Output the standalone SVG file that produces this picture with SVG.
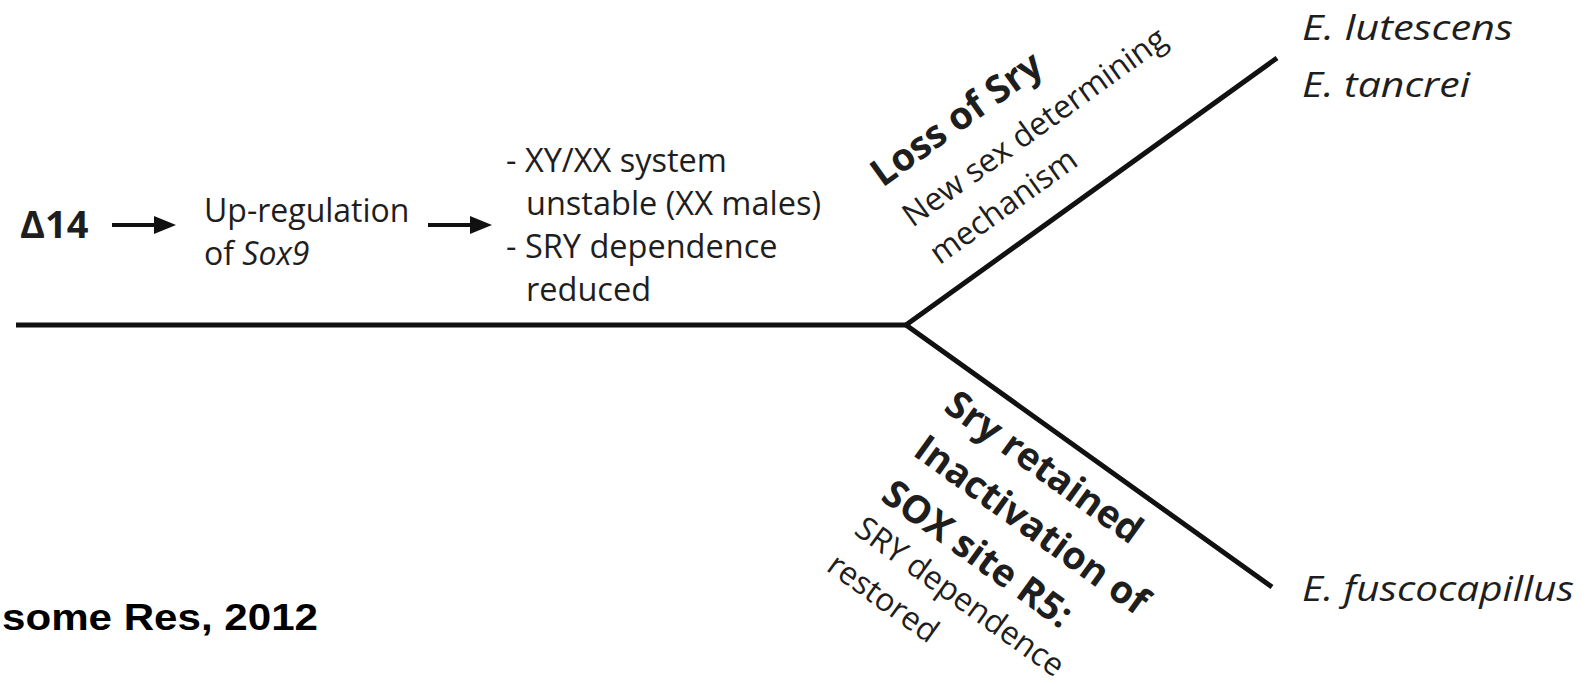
<svg xmlns="http://www.w3.org/2000/svg" width="1587" height="684" viewBox="0 0 1587 684">
  <defs>
    <marker id="head" markerUnits="userSpaceOnUse" markerWidth="22" markerHeight="20" refX="2" refY="10" orient="auto">
      <path d="M0,1 L22,10 L0,19 Z" fill="#111"/>
    </marker>
    <style>
      .t { font-family: "Open Sans", "Liberation Sans", sans-serif; font-size: 32px; fill: #1e1e1e; }
      .col { font-size: 32.5px; }
      .b { font-weight: bold; font-size: 38px; }
      .i { font-style: italic; }
      .sp { font-size: 35px; }
      .edge { stroke: #111; stroke-width: 5; fill: none; stroke-linejoin: miter; }
      .arrow { stroke: #111; stroke-width: 4; fill: none; }
      .cite { font-family: "Liberation Sans", Arial, sans-serif; font-weight: bold; font-size: 36px; fill: #000; }
    </style>
  </defs>
  <rect width="1587" height="684" fill="#fff"/>

  <!-- tree branches and arrows -->
  <g id="connectors">
    <path class="edge" d="M16,325 H906"/>
    <path class="edge" d="M1277,58 L906,325 L1272,587"/>
    <path class="arrow" d="M112,225 H156" marker-end="url(#head)"/>
    <path class="arrow" d="M428,225 H472" marker-end="url(#head)"/>
  </g>

  <g id="delta14">
    <text class="t b" x="20" y="238" font-size="39">Δ14</text>
  </g>

  <g id="sox9">
    <text class="t" x="204" y="222">Up-regulation</text>
    <text class="t" x="204" y="265">of <tspan class="i">Sox9</tspan></text>
  </g>

  <g id="consequences">
    <text class="t col" x="506" y="172">- XY/XX system</text>
    <text class="t col" x="526" y="215">unstable (XX males)</text>
    <text class="t col" x="506" y="258">- SRY dependence</text>
    <text class="t col" x="526" y="301">reduced</text>
  </g>

  <!-- labels along the upper branch -->
  <g id="loss-of-sry" transform="translate(906,325) rotate(-35.7)">
    <text class="t b" x="61" y="-125">Loss of Sry</text>
    <text class="t" x="62" y="-75">New sex determining</text>
    <text class="t" x="62" y="-29">mechanism</text>
  </g>

  <!-- labels along the lower branch -->
  <g id="sry-retained" transform="translate(906,325) rotate(35.7)">
    <text class="t b" x="79" y="48">Sry retained</text>
    <text class="t b" x="80" y="102">Inactivation of</text>
    <text class="t b" x="80" y="157">SOX site R5:</text>
    <text class="t" x="78" y="200">SRY dependence</text>
    <text class="t" x="77" y="246">restored</text>
  </g>

  <g id="taxa">
    <text class="t i sp" x="1302" y="40" textLength="211" lengthAdjust="spacingAndGlyphs">E. lutescens</text>
    <text class="t i sp" x="1302" y="97" textLength="168" lengthAdjust="spacingAndGlyphs">E. tancrei</text>
    <text class="t i sp" x="1302" y="601" textLength="272" lengthAdjust="spacingAndGlyphs">E. fuscocapillus</text>
  </g>

  <g id="citation">
    <text class="cite" x="2" y="630" textLength="316" lengthAdjust="spacingAndGlyphs">some Res, 2012</text>
  </g>
</svg>
